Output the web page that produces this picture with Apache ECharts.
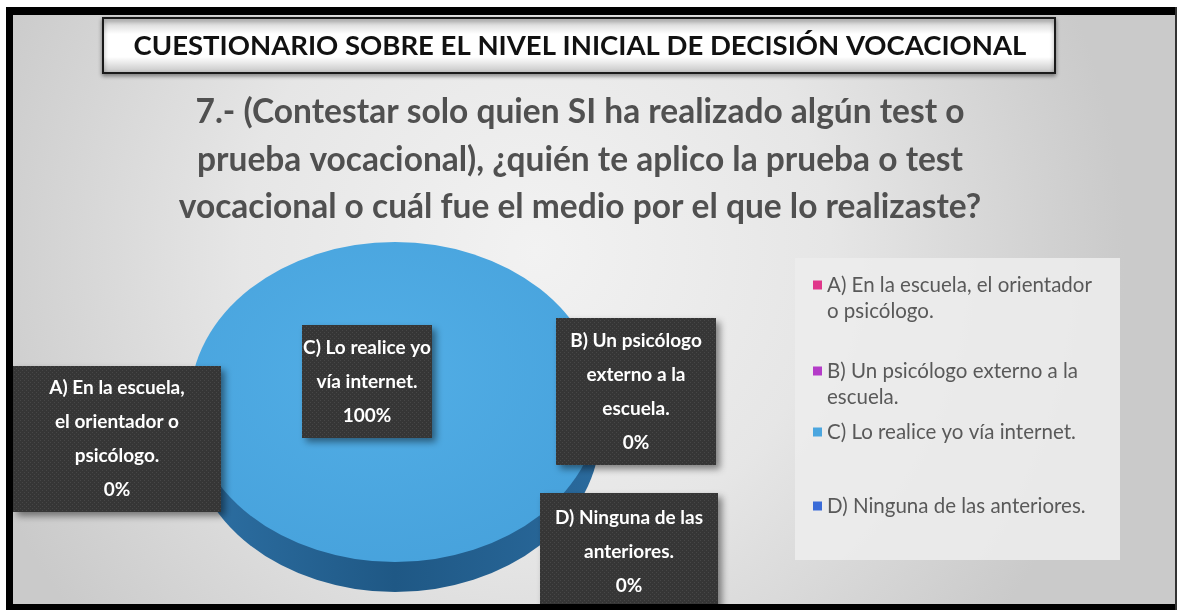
<!DOCTYPE html>
<html>
<head>
<meta charset="utf-8">
<script src="https://cdn.jsdelivr.net/npm/echarts@6/dist/echarts.min.js"></script>
<style>
    html, body { margin: 0; padding: 0; background: #fff; }
    #main { width: 1179px; height: 610px; }
</style>
</head>
<body>
<div id="main"></div>
<script>
    // datos de la pregunta 7
    var headerText = 'CUESTIONARIO SOBRE EL NIVEL INICIAL DE DECISIÓN VOCACIONAL';
    var questionLines = [
        '7.- (Contestar solo quien SI ha realizado algún test o',
        'prueba vocacional), ¿quién te aplico la prueba o test',
        'vocacional o cuál fue el medio por el que lo realizaste?'
    ];
    var categories = [
        'A) En la escuela, el orientador o psicólogo.',
        'B) Un psicólogo externo a la escuela.',
        'C) Lo realice yo vía internet.',
        'D) Ninguna de las anteriores.'
    ];
    var values = [0, 0, 100, 0];
    var boxLabels = [
        'A) En la escuela,\nel orientador o\npsicólogo.',
        'B) Un psicólogo\nexterno a la\nescuela.',
        'C) Lo realice yo\nvía internet.',
        'D) Ninguna de las\nanteriores.'
    ];
    var legendLabels = [
        'A) En la escuela, el orientador\no psicólogo.',
        'B) Un psicólogo externo a la\nescuela.',
        'C) Lo realice yo vía internet.',
        'D) Ninguna de las anteriores.'
    ];

    // estilos y posiciones
    var colors = ['#e0368a', '#b43bc8', '#4ba6df', '#3a6bd8'];
    var pie = { cx: 395, cy: 402, rx: 205, ry: 160, depth: 30 };
    var boxes = [[13, 366, 208, 146], [556, 318, 160, 147], [302, 325, 130, 113], [540, 493, 178, 117]];
    var legendTops = [272, 358, 419, 493];
    var lineH = 26;

    var total = values.reduce(function (a, b) { return a + b; }, 0);

    // textura de puntos para las etiquetas
    var dots = document.createElement('canvas');
    dots.width = 4; dots.height = 4;
    var ctx = dots.getContext('2d');
    ctx.fillStyle = '#363636'; ctx.fillRect(0, 0, 4, 4);
    ctx.fillStyle = '#474747'; ctx.fillRect(0, 0, 1, 1); ctx.fillRect(2, 2, 1, 1);

    function renderSlice(params, api) {
        var i = params.seriesIndex;
        var before = 0;
        for (var k = 0; k < i; k++) before += values[k];
        var v = api.value(0);
        var a0 = -Math.PI / 2 + before / total * Math.PI * 2;
        var a1 = a0 + v / total * Math.PI * 2;
        var s = pie.ry / pie.rx;
        var children = [];
        if (v > 0) {
            for (var d = pie.depth; d > 0; d -= 2) {
                children.push({
                    type: 'sector', z2: 1,
                    shape: { cx: pie.cx, cy: pie.cy, r: pie.rx, startAngle: a0, endAngle: a1, clockwise: true },
                    scaleY: s, originX: pie.cx, originY: pie.cy, y: d,
                    style: {
                        fill: new echarts.graphic.LinearGradient(0, 0, 1, 0, [
                            { offset: 0, color: '#2d70a4' },
                            { offset: 0.5, color: '#1f5885' },
                            { offset: 1, color: '#2a6a9d' }
                        ])
                    }
                });
            }
            children.push({
                type: 'sector', z2: 5,
                shape: { cx: pie.cx, cy: pie.cy, r: pie.rx, startAngle: a0, endAngle: a1, clockwise: true },
                scaleY: s, originX: pie.cx, originY: pie.cy,
                style: {
                    fill: new echarts.graphic.RadialGradient(0.45, 0.4, 0.7, [
                        { offset: 0, color: '#52aee6' },
                        { offset: 1, color: '#46a1db' }
                    ])
                }
            });
        }
        var b = boxes[i];
        var pct = Math.round(v / total * 100) + '%';
        children.push({
            type: 'rect', z2: 20,
            shape: { x: b[0], y: b[1], width: b[2], height: b[3] },
            style: {
                fill: { image: dots, repeat: 'repeat' },
                shadowBlur: 7, shadowOffsetX: 4, shadowOffsetY: 4, shadowColor: 'rgba(0,0,0,0.45)'
            }
        });
        children.push({
            type: 'text', z2: 21,
            x: b[0] + b[2] / 2, y: b[1] + b[3] / 2,
            style: {
                text: boxLabels[i] + '\n' + pct,
                fill: '#fff', font: 'bold 19px Lato', lineHeight: 34,
                align: 'center', verticalAlign: 'middle'
            }
        });
        return { type: 'group', children: children };
    }

    var myChart = echarts.init(document.getElementById('main'));

    var option = {
        animation: false,
        legend: categories.map(function (name, i) {
            var lines = legendLabels[i].split('\n').length;
            var h = 9 + (lines - 1) * lineH;
            return {
                data: [name],
                left: 813,
                top: legendTops[i],
                orient: 'vertical',
                padding: 0,
                // cuadro arriba, alineado con la primera línea del texto
                icon: lines > 1 ? 'path://M0,0L9,0L9,9L0,9ZM0,' + h + 'L0.01,' + h : 'rect',
                itemWidth: 9,
                itemHeight: h,
                selectedMode: false,
                formatter: function () { return legendLabels[i]; },
                textStyle: {
                    fontFamily: 'Lato', fontSize: 20.5, color: '#595959', lineHeight: lineH
                }
            };
        }),
        graphic: [
            {
                type: 'rect', z: 0, silent: true,
                shape: { x: 13, y: 15, width: 1163, height: 589 },
                style: {
                    fill: new echarts.graphic.RadialGradient(0.45, 0.4, 1, [
                        { offset: 0, color: '#f2f2f2' },
                        { offset: 0.5, color: '#e6e6e6' },
                        { offset: 1, color: '#cacaca' }
                    ])
                }
            },
            {
                type: 'rect', z: 1, silent: true,
                shape: { x: 795, y: 258, width: 325, height: 302 },
                style: { fill: 'rgba(236,236,236,0.9)' }
            },
            {
                type: 'rect', z: 1, silent: true,
                shape: { x: 103, y: 18, width: 952, height: 55 },
                style: {
                    fill: new echarts.graphic.LinearGradient(0, 0, 0, 1, [
                        { offset: 0, color: '#c4c4c4' },
                        { offset: 0.3, color: '#ffffff' },
                        { offset: 0.7, color: '#ffffff' },
                        { offset: 1, color: '#c0c0c0' }
                    ]),
                    stroke: '#1a1a1a', lineWidth: 2,
                    shadowBlur: 4, shadowOffsetY: 2, shadowColor: 'rgba(0,0,0,0.4)'
                }
            },
            {
                type: 'text', z: 2, silent: true,
                x: 580, y: 46,
                style: {
                    text: headerText, fill: '#111', font: 'bold 27.5px Lato',
                    align: 'center', verticalAlign: 'middle'
                }
            },
            {
                type: 'text', z: 2, silent: true,
                x: 580, y: 160,
                style: {
                    text: questionLines.join('\n'), fill: '#505050', font: 'bold 33.5px Lato',
                    lineHeight: 47.5, align: 'center', verticalAlign: 'middle'
                }
            },
            // marco negro
            { type: 'rect', z: 100, silent: true, shape: { x: 6, y: 7, width: 1171, height: 8 }, style: { fill: '#000' } },
            { type: 'rect', z: 100, silent: true, shape: { x: 6, y: 7, width: 7, height: 603 }, style: { fill: '#000' } },
            { type: 'rect', z: 100, silent: true, shape: { x: 6, y: 604, width: 1171, height: 6 }, style: { fill: '#000' } },
            { type: 'rect', z: 100, silent: true, shape: { x: 1175, y: 7, width: 2, height: 603 }, style: { fill: '#333' } }
        ],
        series: categories.map(function (name, i) {
            return {
                name: name,
                type: 'custom',
                coordinateSystem: 'none',
                itemStyle: { color: colors[i] },
                renderItem: renderSlice,
                data: [[values[i]]]
            };
        })
    };

    myChart.setOption(option);
</script>
</body>
</html>
